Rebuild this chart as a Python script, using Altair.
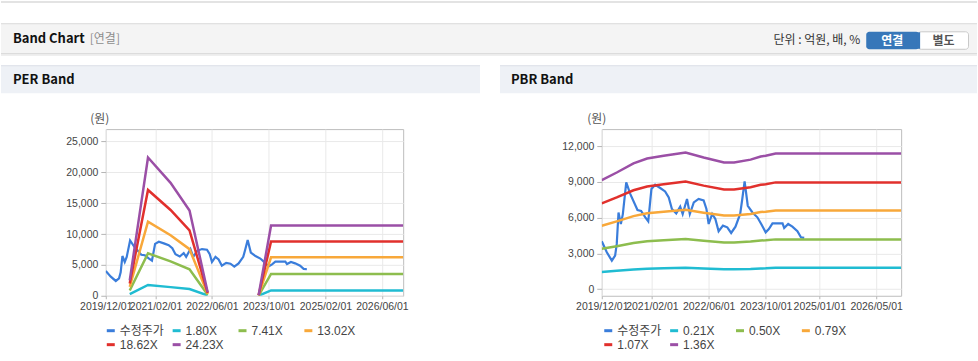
import altair as alt
import pandas as pd

# ---------------- data ----------------
price_dates = [
    "2019-12-01", "2020-01-13", "2020-02-25", "2020-03-24", "2020-04-07", "2020-04-22",
    "2020-05-12", "2020-05-29", "2020-06-27", "2020-08-01", "2020-10-01", "2020-11-01",
    "2020-12-07", "2021-01-01", "2021-01-28", "2021-03-01", "2021-04-13", "2021-05-25",
    "2021-06-25", "2021-07-22", "2021-08-28", "2021-10-01", "2021-10-22", "2021-11-28",
    "2021-12-22", "2022-01-25", "2022-03-07", "2022-04-19", "2022-05-13", "2022-06-01",
    "2022-07-01", "2022-07-28", "2022-08-25", "2022-10-01", "2022-11-07", "2022-12-10",
    "2023-01-16", "2023-02-25", "2023-03-13", "2023-04-04", "2023-05-01", "2023-06-10",
    "2023-07-22", "2023-08-25", "2023-10-01", "2023-10-28", "2023-11-28", "2024-02-22",
    "2024-03-07", "2024-04-10", "2024-05-16", "2024-06-28", "2024-07-28", "2024-08-25",
]
price_values = [
    4020, 3100, 2400, 2820, 3800, 6440,
    5470, 6300, 8960, 7980, 6640, 6560,
    6030, 5690, 8400, 8760, 8490, 8200,
    7700, 6730, 6360, 6920, 6310, 7570,
    6310, 7280, 7570, 7450, 6730, 5470,
    6310, 5890, 4860, 5330, 5190, 4720,
    5250, 6310, 7420, 9040, 7000, 6440,
    6030, 5450, 4770, 5050, 5520, 5520,
    5140, 5470, 5250, 4860, 4350, 4300,
]

# PER band (two separate segments)
per_band_dates = ["2020-06-24", "2020-11-28", "2021-06-10", "2021-11-20", "2022-04-25",
                  "2023-07-07", "2023-10-22", "2026-12-01"]
per_band_seg = [1, 1, 1, 1, 1, 2, 2, 2]
per_names = ["1.80X", "7.41X", "13.02X", "18.62X", "24.23X"]
per_180 = [250, 1750, 1400, 1100, 50, 10, 860, 860]
per_741 = [850, 6880, 5560, 4300, 180, 30, 3530, 3530]
per_1302 = [1450, 12000, 9800, 7550, 310, 60, 6240, 6240]
per_1862 = [2000, 17140, 13900, 10600, 450, 80, 8780, 8780]
per_2423 = [2500, 22400, 18300, 13800, 580, 100, 11370, 11370]

# PBR band
pbr_band_dates = ["2019-12-01", "2020-04-07", "2020-08-28", "2020-12-22", "2021-05-13",
                  "2021-11-16", "2022-04-19", "2022-10-10", "2023-01-04", "2023-05-25",
                  "2023-08-19", "2023-10-01", "2023-12-25", "2026-12-01"]
pbr_names = ["0.21X", "0.50X", "0.79X", "1.07X", "1.36X"]
pbr_021 = [1450, 1540, 1650, 1720, 1750, 1790, 1730, 1670, 1670, 1700, 1740, 1750, 1790, 1790]
pbr_050 = [3400, 3600, 3880, 4030, 4110, 4220, 4060, 3910, 3910, 4000, 4090, 4110, 4180, 4180]
pbr_079 = [5320, 5690, 6130, 6370, 6500, 6660, 6420, 6180, 6180, 6310, 6470, 6500, 6610, 6610]
pbr_107 = [7200, 7700, 8300, 8620, 8800, 9030, 8690, 8360, 8360, 8550, 8760, 8800, 8960, 8960]
pbr_136 = [9160, 9790, 10550, 10960, 11190, 11470, 11050, 10630, 10630, 10870, 11130, 11190, 11380, 11380]

per_y_ticks = [0, 5000, 10000, 15000, 20000, 25000]
pbr_y_ticks = [0, 3000, 6000, 9000, 12000]
per_x_ticks = [(2019, 12, 1), (2021, 2, 1), (2022, 6, 1), (2023, 10, 1), (2025, 2, 1), (2026, 6, 1)]
pbr_x_ticks = [(2019, 12, 1), (2021, 2, 1), (2022, 6, 1), (2023, 10, 1), (2025, 1, 1), (2026, 5, 1)]

PRICE_NAME = "수정주가"
band_colors = ["#20bcd2", "#8dbd4e", "#f8a83a", "#e1302c", "#9b4fa6"]
price_color = "#3a7ddb"

# ---------------- frames ----------------
price_df = pd.DataFrame({"date": price_dates, "value": price_values, "series": PRICE_NAME})

per_rows = []
for name, vals in zip(per_names, [per_180, per_741, per_1302, per_1862, per_2423]):
    for d, s, v in zip(per_band_dates, per_band_seg, vals):
        per_rows.append({"date": d, "value": v, "series": name, "seg": s})
per_df = pd.DataFrame(per_rows)

pbr_rows = []
for name, vals in zip(pbr_names, [pbr_021, pbr_050, pbr_079, pbr_107, pbr_136]):
    for d, v in zip(pbr_band_dates, vals):
        pbr_rows.append({"date": d, "value": v, "series": name, "seg": 1})
pbr_df = pd.DataFrame(pbr_rows)

LABEL_FONT = "Liberation Sans"
KFONT = "Noto Sans CJK KR"


def dt(t):
    return alt.DateTime(year=t[0], month=t[1], date=t[2], utc=True)


def panel(band_df, names, y_domain, y_ticks, x_ticks, legend_x):
    x = alt.X("date:T",
              scale=alt.Scale(type="utc", domain=[dt((2019, 12, 1)), dt((2026, 12, 1))]),
              axis=alt.Axis(values=[dt(t) for t in x_ticks], format="%Y/%m/%d", labelAngle=0,
                            labelFlush=False, labelOverlap=False, title=None, domain=False,
                            tickSize=3, labelPadding=3))
    y = alt.Y("value:Q", scale=alt.Scale(domain=y_domain, nice=False, zero=False),
              axis=alt.Axis(values=y_ticks, format=",.0f", title=None, domain=False,
                            tickSize=5, labelPadding=3))
    color = alt.Color("series:N",
                      scale=alt.Scale(domain=[PRICE_NAME] + names, range=[price_color] + band_colors),
                      legend=alt.Legend(orient="none", legendX=legend_x, legendY=196, columns=4,
                                        direction="horizontal", symbolType="stroke",
                                        symbolStrokeWidth=3, symbolSize=64, gridAlign="all",
                                        columnPadding=2, rowPadding=2, labelOffset=3,
                                        labelFontSize=12, labelColor="#444",
                                        labelFont=LABEL_FONT + ", " + KFONT, title=None,
                                        padding=0))
    price = alt.Chart(price_df).mark_line(strokeWidth=2.2, clip=True).encode(x=x, y=y, color=color)
    bands = alt.Chart(band_df).mark_line(strokeWidth=2.5, clip=True).encode(
        x=x, y=y, color=color, detail="seg:N")
    return price, bands


# ---------------- decorations (page coordinates, relative to PER plot origin) ----------------
OX, OY = 105, 128


def box(x1, y1, x2, y2, fill, stroke=None, radius=0, opacity=1):
    kw = dict(fill=fill, opacity=opacity)
    if stroke:
        kw.update(stroke=stroke, strokeWidth=1)
    if radius:
        kw.update(cornerRadius=radius)
    return alt.Chart(alt.Data(values=[{}])).mark_rect(**kw).encode(
        x=alt.value(x1 - OX), x2=alt.value(x2 - OX), y=alt.value(y1 - OY), y2=alt.value(y2 - OY))


def label(x, y, s, size=12, weight="normal", color="#333", align="left", font=KFONT):
    return alt.Chart(alt.Data(values=[{}])).mark_text(
        align=align, baseline="middle", fontSize=size, fontWeight=weight, color=color, font=font
    ).encode(x=alt.value(x - OX), y=alt.value(y - OY), text=alt.value(s))


decor = [
    box(0, 0, 978, 361, "white", opacity=0),
    box(0, 0, 978, 1.5, "#dadada"),
    box(0, 22, 978, 52, "#f4f4f4"),
    box(0, 22, 978, 23, "#dadada"),
    box(0, 52, 978, 53, "#d2d2d2"),
    box(0, 53, 978, 54.5, "#eaeaea"),
    label(12, 38, "Band Chart", size=13, weight="bold", color="#111"),
    label(89, 38, "[연결]", size=12, color="#8d8d8d"),
    label(861, 38.5, "단위 : 억원, 배, %", size=12, color="#333", align="right"),
    box(867, 30.5, 920, 48, "#3777b9", radius=3),
    box(919, 30.5, 969.5, 48, "white", stroke="#c9c9c9", radius=3),
    box(917, 31, 921, 47.5, "#3777b9"),
    label(893, 39.5, "연결", size=12, weight="bold", color="white", align="center"),
    label(944.5, 39.5, "별도", size=12, weight="bold", color="#555", align="center"),
    box(0, 64, 480, 92, "#eef1f6"),
    box(0, 64, 480, 65, "#dde1e8"),
    box(500, 64, 978, 92, "#eef1f6"),
    box(500, 64, 978, 65, "#dde1e8"),
    label(12, 79, "PER Band", size=13, weight="bold", color="#111"),
    label(511, 79, "PBR Band", size=13, weight="bold", color="#111"),
    label(99, 118, "(원)", size=12, color="#555", align="center"),
    label(597, 118, "(원)", size=12, color="#555", align="center"),
]

per_price, per_bands = panel(per_df, per_names, [0, 27000], per_y_ticks, per_x_ticks, -1)
pbr_price, pbr_bands = panel(pbr_df, pbr_names, [-550, 13430], pbr_y_ticks, pbr_x_ticks, 0.5)

per = alt.layer(*decor, per_price, per_bands).properties(width=298, height=167)
pbr = alt.layer(pbr_price, pbr_bands).properties(width=300, height=167)

chart = (
    alt.hconcat(per, pbr, spacing=199)
    .resolve_scale(x="independent", y="independent", color="independent")
    .resolve_legend(color="independent")
    .properties(padding=0, bounds="flush", autosize=alt.AutoSizeParams(type="pad"))
    .configure(background="white")
    .configure_view(stroke="#bdbdbd", strokeWidth=1)
    .configure_axis(labelFont=LABEL_FONT, labelFontSize=10.5, labelColor="#444",
                    gridColor="#e9e9e9", tickColor="#b5b5b5")
)

chart.save("out.html", embed_options={"renderer": "svg", "actions": False})
